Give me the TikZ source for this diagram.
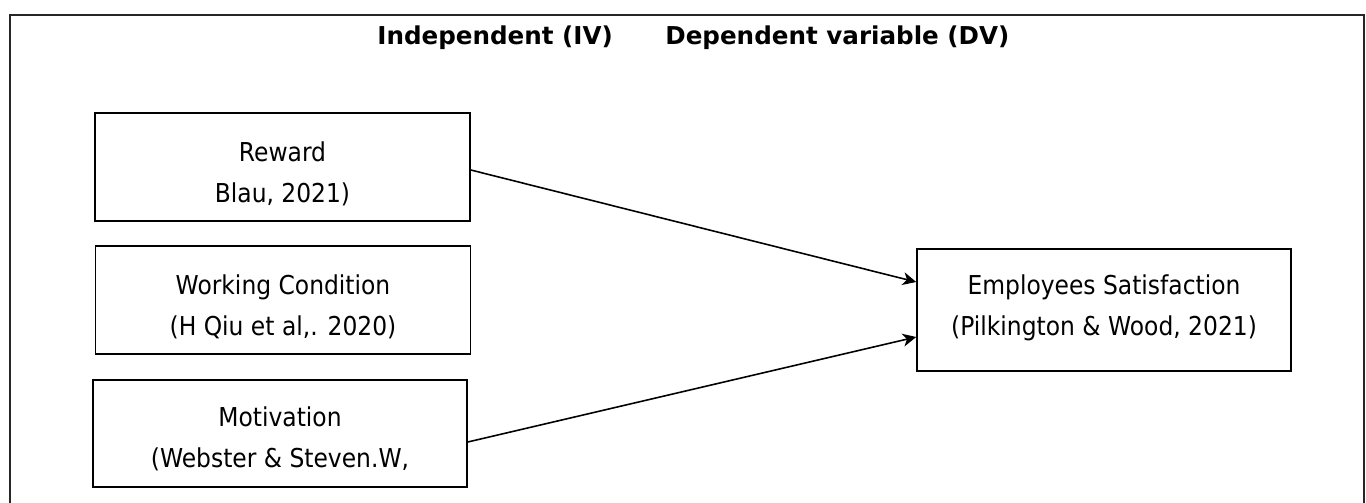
\documentclass[tikz,border=0pt]{standalone}
\usepackage{fontspec}
\setmainfont{DejaVu Sans}
\newfontfamily\boxfont{DejaVu Sans}[FakeStretch=0.9]
\usetikzlibrary{arrows.meta,calc}
\begin{document}
\begin{tikzpicture}[x={(0.02cm,0)}, y={(0,-0.02cm)},
  frame/.style={line width=1.2pt, draw=black!85},
  varbox/.style={draw, line width=0.95pt, inner sep=0pt, minimum width=7.5cm, minimum height=2.16cm},
  lbl/.style={align=center, inner sep=0pt, font=\boxfont\fontsize{14.8}{23.3}\selectfont},
  head/.style={anchor=base west, inner sep=0pt, font=\bfseries\fontsize{14}{17}\selectfont},
  link/.style={line width=0.9pt, -{Stealth[length=0.27cm, width=0.26cm, inset=0.08cm]}}]
\clip (0,0) rectangle (1366,503);
\useasboundingbox (0,0) rectangle (1366,503);
% open frame round the model
\draw[frame] (10,510) -- (10,15) -- (1364,15) -- (1364,510);
% headings
\node[head] (hiv) at (377,45) {Independent (IV)};
\node[head] (hdv) at (665,45) {Dependent variable (DV)};
% independent variables
\node[varbox] (rw) at (282.5,167) {};
\node[lbl] (rwt) at ($(rw.center)+(0,6.5)$) {Reward\\Blau, 2021)};
\node[varbox] (wc) at (283,300) {};
\node[lbl] (wct) at ($(wc.center)+(0,7)$) {Working Condition\\(H Qiu et al,. 2020)};
\node[varbox, minimum width=7.48cm, minimum height=2.14cm] (mv) at (280,433.5) {};
\node[lbl] (mvt) at ($(mv.center)+(0,5)$) {Motivation\\(Webster \& Steven.W,};
% dependent variable
\node[varbox, minimum width=7.48cm, minimum height=2.44cm] (es) at (1104,310) {};
\node[lbl] (est) at ($(es.center)+(0,-2.5)$) {Employees Satisfaction\\(Pilkington \& Wood, 2021)};
% relations
\draw[link] ($(rw.east)+(0,3)$) -- ($(es.west)+(0,-28)$);
\draw[link] ($(mv.east)+(0,8.5)$) -- ($(es.west)+(0,27)$);
\end{tikzpicture}
\end{document}
